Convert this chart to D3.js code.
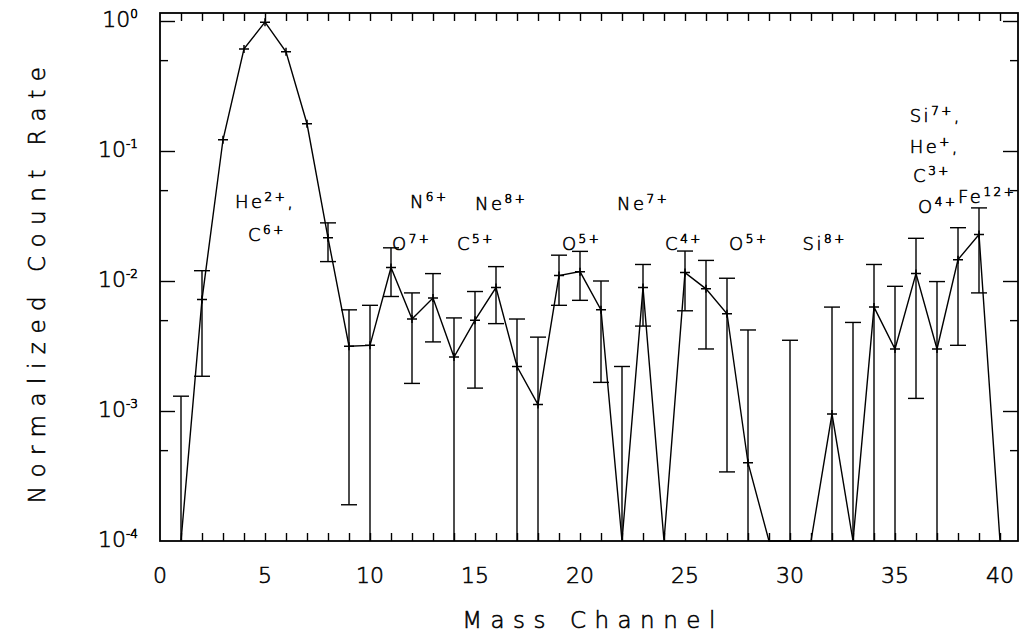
<!DOCTYPE html>
<html><head><meta charset="utf-8">
<script src="https://cdn.jsdelivr.net/npm/d3@7/dist/d3.min.js"></script>
<style>
html,body{margin:0;padding:0;background:#fff;}
svg{display:block;font-family:"DejaVu Sans",sans-serif;font-weight:200;}
svg text{fill:#000;stroke:#000;stroke-width:0.55px;}
svg text tspan.sup{stroke-width:0.7px;}
</style></head><body>
<svg id="chart" width="1022" height="641"></svg>
<script>
// ---- data ----
const channels = [1,2,3,4,5,6,7,8,9,10,11,12,13,14,15,16,17,18,19,20,21,22,23,24,25,26,27,28,29,30,31,32,33,34,35,36,37,38,39,40];
const countRate = [0,0.0072,0.122,0.61,0.98,0.58,0.162,0.0215,0.00315,0.0032,
  0.0127,0.0051,0.0074,0.0026,0.0050,0.0089,0.0022,0.00112,0.0110,0.0118,
  0.0060,0,0.0089,0,0.0116,0.0087,0.0056,0.00040,0,0,
  0,0.00095,0,0.0063,0.0030,0.0114,0.0030,0.0146,0.0228,0];
const errUpper = [0.0013,0.012,null,null,null,null,null,0.028,0.0060,0.0065,
  0.018,0.0081,0.0114,0.0052,0.0083,0.0129,0.0051,0.0037,0.0158,0.0169,
  0.0100,0.0022,0.0134,null,0.017,0.0144,0.0105,0.0042,null,0.0035,
  null,0.0063,0.0048,0.0134,0.0091,0.0213,0.0099,0.0257,0.0365,null];
const errLower = [0,0.00185,null,null,null,null,null,0.0141,0.00019,0,
  0.0076,0.00163,0.0034,0,0.0015,0.0047,0,0,0.0065,0.0071,
  0.00166,0,0.0045,null,0.0059,0.0030,0.00034,0,null,0,
  null,0,0,0,0,0.00125,0,0.0032,0.0081,null];
const xTickLabels = [0,5,10,15,20,25,30,35,40];
const xMinorTicks = channels;
const yMajorTicks = [1,0.1,0.01,0.001,0.0001];
const yTickExponents = ["0","-1","-2","-3","-4"];
const yMinorTicks = [0.5,0.05,0.005,0.0005];
const ionMain = ["He","C","N","O","Ne","C","O","Ne","C","O","Si","Si","He","C","O","Fe"];
const ionSup  = ["2+","6+","6+","7+","8+","5+","5+","7+","4+","5+","8+","7+","+","3+","4+","12+"];
const ionTail = [",","","","","","","","","","","",",",",","","",""];
// annotation anchors in data coordinates (channel, count rate)
const ionChannel = [3.57,4.19,11.9,11.05,15.0,14.14,19.14,21.76,24.05,27.1,30.6,35.7,35.7,35.86,36.1,38.0];
const ionRate = [0.0365,0.0203,0.0365,0.0173,0.0352,0.0173,0.0173,0.0352,0.0173,0.0173,0.0173,0.167,0.0966,0.0578,0.0334,0.0398];
const xTitle = "Mass Channel";
const yTitle = "Normalized Count Rate";

// ---- layout ----
const L = 160, R = 1018, T = 13, B = 541;
const svg = d3.select("#chart");
const yMin = 1e-4;
const x = d3.scaleLinear().domain([0, 40.857]).range([L, R]);
const y = d3.scaleLog().domain([yMin, Math.pow(10, 8/130)]).range([B, T]);
const fy = v => y(Math.max(v, yMin));

// frame
const frame = svg.append("g").attr("stroke", "#000").attr("fill", "none").attr("stroke-width", 1.8);
frame.append("rect").attr("x", L).attr("y", T).attr("width", R - L).attr("height", B - T);

function styleAxis(g) {
  g.select(".domain").remove();
  g.selectAll(".tick line").attr("stroke", "#000").attr("stroke-width", 1.4);
  g.selectAll(".tick text").remove();
}
// bottom ticks (inward)
svg.append("g").attr("transform", `translate(0,${B})`)
  .call(d3.axisBottom(x).tickValues(xMinorTicks).tickSize(-8).tickFormat(""))
  .call(styleAxis);
// top ticks (inward)
svg.append("g").attr("transform", `translate(0,${T})`)
  .call(d3.axisTop(x).tickValues(xMinorTicks).tickSize(-8).tickFormat(""))
  .call(styleAxis);
// left ticks
svg.append("g").attr("transform", `translate(${L},0)`)
  .call(d3.axisLeft(y).tickValues(yMajorTicks.slice(0, 4)).tickSize(-15).tickFormat(""))
  .call(styleAxis);
svg.append("g").attr("transform", `translate(${L},0)`)
  .call(d3.axisLeft(y).tickValues(yMinorTicks).tickSize(-8).tickFormat(""))
  .call(styleAxis);
// right ticks
svg.append("g").attr("transform", `translate(${R},0)`)
  .call(d3.axisRight(y).tickValues(yMajorTicks.slice(0, 4)).tickSize(-15).tickFormat(""))
  .call(styleAxis);
svg.append("g").attr("transform", `translate(${R},0)`)
  .call(d3.axisRight(y).tickValues(yMinorTicks).tickSize(-8).tickFormat(""))
  .call(styleAxis);

// x tick labels
svg.append("g").selectAll("text").data(xTickLabels).join("text")
  .attr("x", d => x(d)).attr("y", B + 42)
  .attr("text-anchor", "middle").attr("font-size", 22)
  .text(d => d);

// y tick labels with superscript exponent
const yl = svg.append("g").selectAll("text").data(yMajorTicks).join("text")
  .attr("x", L - 22).attr("y", d => y(d) + 6)
  .attr("text-anchor", "end").attr("font-size", 22);
yl.append("tspan").text("10");
yl.append("tspan").attr("class", "sup").attr("font-size", 12).attr("dy", -9).text((d, i) => yTickExponents[i]);

// axis titles
svg.append("text").attr("x", (L + R) / 2 + 4).attr("y", 628)
  .attr("text-anchor", "middle").attr("font-size", 23).attr("letter-spacing", 8.5)
  .text(xTitle);
svg.append("text").attr("transform", `translate(45,${(T + B) / 2 + 4}) rotate(-90)`)
  .attr("text-anchor", "middle").attr("font-size", 23).attr("letter-spacing", 8.5)
  .text(yTitle);

// error bars
const idx = channels.map((c, i) => i).filter(i => errUpper[i] !== null);
const eb = svg.append("g").attr("stroke", "#000").attr("stroke-width", 1.4).attr("fill", "none");
eb.selectAll("line.v").data(idx).join("line").attr("class", "v")
  .attr("x1", i => x(channels[i])).attr("x2", i => x(channels[i]))
  .attr("y1", i => fy(errLower[i])).attr("y2", i => fy(errUpper[i]));
eb.selectAll("line.cu").data(idx).join("line").attr("class", "cu")
  .attr("x1", i => x(channels[i]) - 8).attr("x2", i => x(channels[i]) + 8)
  .attr("y1", i => fy(errUpper[i])).attr("y2", i => fy(errUpper[i]));
eb.selectAll("line.cl").data(idx.filter(i => errLower[i] > yMin)).join("line").attr("class", "cl")
  .attr("x1", i => x(channels[i]) - 8).attr("x2", i => x(channels[i]) + 8)
  .attr("y1", i => fy(errLower[i])).attr("y2", i => fy(errLower[i]));

// data line
const line = d3.line().x((d, i) => x(channels[i])).y(d => fy(d));
svg.append("path").datum(countRate).attr("d", line)
  .attr("fill", "none").attr("stroke", "#000").attr("stroke-width", 1.4);

// plus markers
const pts = channels.map((c, i) => i).filter(i => countRate[i] > yMin);
svg.append("g").selectAll("path").data(pts).join("path")
  .attr("d", i => {
    const cx = x(channels[i]), cy = fy(countRate[i]);
    return `M${cx - 5},${cy}H${cx + 5}M${cx},${cy - 4}V${cy + 4}`;
  })
  .attr("stroke", "#000").attr("stroke-width", 1.5).attr("fill", "none");

// ion annotations
const ions = svg.append("g").selectAll("text").data(ionMain).join("text")
  .attr("x", (d, i) => x(ionChannel[i])).attr("y", (d, i) => y(ionRate[i]))
  .attr("font-size", 18).attr("letter-spacing", 2.5);
ions.append("tspan").text(d => d);
ions.append("tspan").attr("class", "sup").attr("font-size", 12).attr("dy", -7).text((d, i) => ionSup[i]);
ions.append("tspan").attr("dy", 7).text((d, i) => ionTail[i]);
</script>
</body></html>
